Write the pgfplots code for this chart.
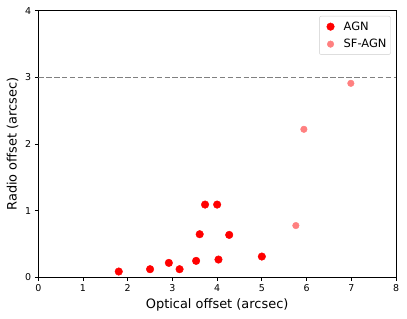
\documentclass[border=0pt]{standalone}
\usepackage{pgfplots}
\pgfplotsset{compat=1.18}
\usepackage{fontspec}
\setmainfont{DejaVu Sans}
\definecolor{sfagn}{RGB}{255,128,128}
\begin{document}
\begin{tikzpicture}
\begin{axis}[
  scale only axis,
  width=358bp, height=266.7bp,
  xmin=0, xmax=8, ymin=0, ymax=4,
  xtick={0,1,...,8}, ytick={0,1,2,3,4},
  tick align=outside, tick pos=left,
  major tick length=3.5bp,
  every tick/.style={black, line width=0.8bp},
  axis line style={line width=0.8bp},
  /pgf/number format/assume math mode=true,
  tick label style={font=\fontsize{9.5}{11}\selectfont},
  xlabel={Optical offset (arcsec)},
  ylabel={Radio offset (arcsec)},
  label style={font=\fontsize{13}{15}\selectfont},
  legend style={at={(1,1)}, xshift=-5.3bp, yshift=-5.3bp, anchor=north east,
    draw=black!20, rounded corners=2bp, font=\fontsize{11.5}{13}\selectfont,
    row sep=3.5bp, inner xsep=2bp, inner ysep=3.5bp},
  legend cell align=left,
  legend image code/.code={\path (-9bp,0bp) (11bp,0bp); \draw[#1] plot coordinates {(0bp,0bp)};},
]
\addplot [only marks, mark=*, mark size=3.8bp, color=red, mark options={draw=red, fill=red}] coordinates {
(1.80,0.085) (2.50,0.12) (2.92,0.215) (3.16,0.12) (3.53,0.245) (3.61,0.645)
(3.73,1.09) (4.00,1.09) (4.03,0.265) (4.27,0.635) (5.00,0.31)
};
\addlegendentry{AGN}
\addplot [only marks, mark=*, mark size=3.3bp, color=sfagn, mark options={draw=sfagn, fill=sfagn}] coordinates {
(5.76,0.775) (5.94,2.22) (6.99,2.91)
};
\addlegendentry{SF-AGN}
\addplot [gray, line width=1.5bp, dash pattern=on 5.5bp off 2.4bp, forget plot] coordinates {(0,3) (8,3)};
\end{axis}
\pgfresetboundingbox
\path (current axis.south west) +(-38.3bp,-41.7bp) (current axis.north east) +(11bp,10.7bp);
\end{tikzpicture}
\end{document}
